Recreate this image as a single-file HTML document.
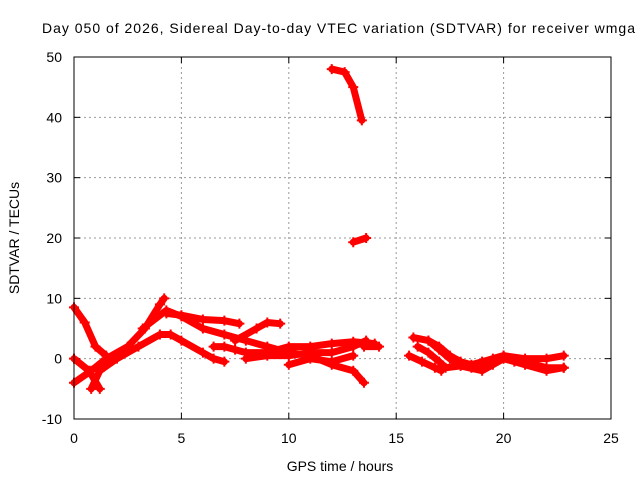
<!DOCTYPE html>
<html><head><meta charset="utf-8"><style>
body{margin:0;background:#fff}
svg{display:block;font-family:"Liberation Sans",sans-serif}
</style></head><body>
<svg id="chart" width="640" height="480">
<rect width="640" height="480" fill="#fff"/>
<text x="42" y="33" font-size="14" textLength="593" lengthAdjust="spacing">Day 050 of 2026, Sidereal Day-to-day VTEC variation (SDTVAR) for receiver wmga</text>
<text x="340" y="471" text-anchor="middle" font-size="14">GPS time / hours</text>
<text transform="translate(19,238) rotate(-90)" text-anchor="middle" font-size="14">SDTVAR / TECUs</text>
<g id="grid"></g><g id="marks"></g>
<rect x="74" y="57" width="537" height="362" fill="none" stroke="#000"/>
</svg>
<script>
const xTicks=[0,5,10,15,20,25];
const yTicks=[-10,0,10,20,30,40,50];
const track1=[[0,8.5],[0.5,6],[1,2],[1.5,0.5]];
const track2=[[0,-4],[0.8,-2],[1.5,0],[2.5,2],[3.3,5],[4,9],[4.2,10]];
const track3=[[0,0],[0.7,-2],[1.2,-5]];
const track4=[[0.8,-5],[1.2,-2],[2,0],[3,2],[4,4],[4.5,4],[5,3],[6,1],[6.5,0],[7,-0.5]];
const track5=[[3.2,5],[4.3,8],[5,7],[6,5],[7,4],[8,3],[9,2],[10,1],[11,0.5],[12,-1],[13,-2],[13.5,-4]];
const track6=[[4.3,7.5],[5,7.2],[6,6.5],[7,6.3],[7.7,5.8]];
const track7=[[6.5,2],[7,2],[7.5,1.5],[8,1],[9,1],[10,2],[11,2],[12,2.5],[13,2.8],[14,2.5]];
const track8=[[7.5,3],[8.5,5],[9,6],[9.6,5.8]];
const track9=[[8,0],[9,0.5],[10,0.5],[11,1],[12,1],[13,2],[13.6,3]];
const track10=[[10,-1],[11,0],[12,-0.5],[13,0.5]];
const track11=[[12,48],[12.6,47.5],[13,45],[13.4,39.5]];
const track12=[[13,19.3],[13.6,20]];
const track13=[[13.5,2],[14.2,2]];
const track14=[[15.8,3.5],[16.5,3],[17,1.5],[17.5,0],[18,-1],[18.5,-1.5],[19,-1],[19.5,0],[20,0.5],[21,0],[22,0],[22.8,0.5]];
const track15=[[16,2],[16.5,1],[17,-0.5],[17.3,-1.5],[18,-1.2],[19,-2],[19.5,-1],[20,0],[20.5,-0.5],[21,-1],[22,-2],[22.8,-1.5]];
const track16=[[15.6,0.5],[16.2,-0.5],[16.8,-1.5],[17.1,-2]];
const track17=[[16.5,3],[17,2],[17.5,0.5],[18,-0.5],[18.5,-1],[19,-0.5],[20,0.5],[21,-0.5],[22,-1.5],[22.8,-1.5]];
const tracks=[track1,track2,track3,track4,track5,track6,track7,track8,track9,track10,track11,track12,track13,track14,track15,track16,track17];
const X=v=>74+v*537/25, Y=v=>57+(50-v)*362/60;
const NS="http://www.w3.org/2000/svg";
const grid=document.getElementById('grid'), marks=document.getElementById('marks');
function mk(t,a,p){const e=document.createElementNS(NS,t);for(const k in a)e.setAttribute(k,a[k]);p.appendChild(e);return e;}
xTicks.forEach(t=>{
 if(t>0&&t<25){const l=mk('line',{x1:X(t),x2:X(t),y1:57,y2:419,stroke:'#999','stroke-dasharray':'2,3'},grid);
 
 }
 mk('line',{x1:X(t),x2:X(t),y1:419,y2:413,stroke:'#000'},grid);
 mk('line',{x1:X(t),x2:X(t),y1:57,y2:63,stroke:'#000'},grid);
 const tx=mk('text',{x:X(t),y:443,'text-anchor':'middle','font-size':14},grid);tx.textContent=t;
 
 
});
yTicks.forEach(t=>{
 if(t>-10&&t<50){const l=mk('line',{x1:74,x2:611,y1:Y(t),y2:Y(t),stroke:'#999','stroke-dasharray':'2,3'},grid);
 
 }
 mk('line',{x1:74,x2:80,y1:Y(t),y2:Y(t),stroke:'#000'},grid);
 mk('line',{x1:605,x2:611,y1:Y(t),y2:Y(t),stroke:'#000'},grid);
 const tx=mk('text',{x:62,y:Y(t)+5,'text-anchor':'end','font-size':14},grid);tx.textContent=t;
 
 
});
tracks.forEach((tr,i)=>{
 const g=mk('g',{},marks);
 
 
 mk('polyline',{points:tr.map(p=>X(p[0])+','+Y(p[1])).join(' '),fill:'none',stroke:'#f00','stroke-width':7,'stroke-linejoin':'round','stroke-linecap':'round'},g);
 tr.forEach(p=>{const x=X(p[0]),y=Y(p[1]);
  mk('path',{d:`M${x-5},${y}H${x+5}M${x},${y-5}V${y+5}`,stroke:'#f00','stroke-width':2},g);});
});
</script>
</body></html>
